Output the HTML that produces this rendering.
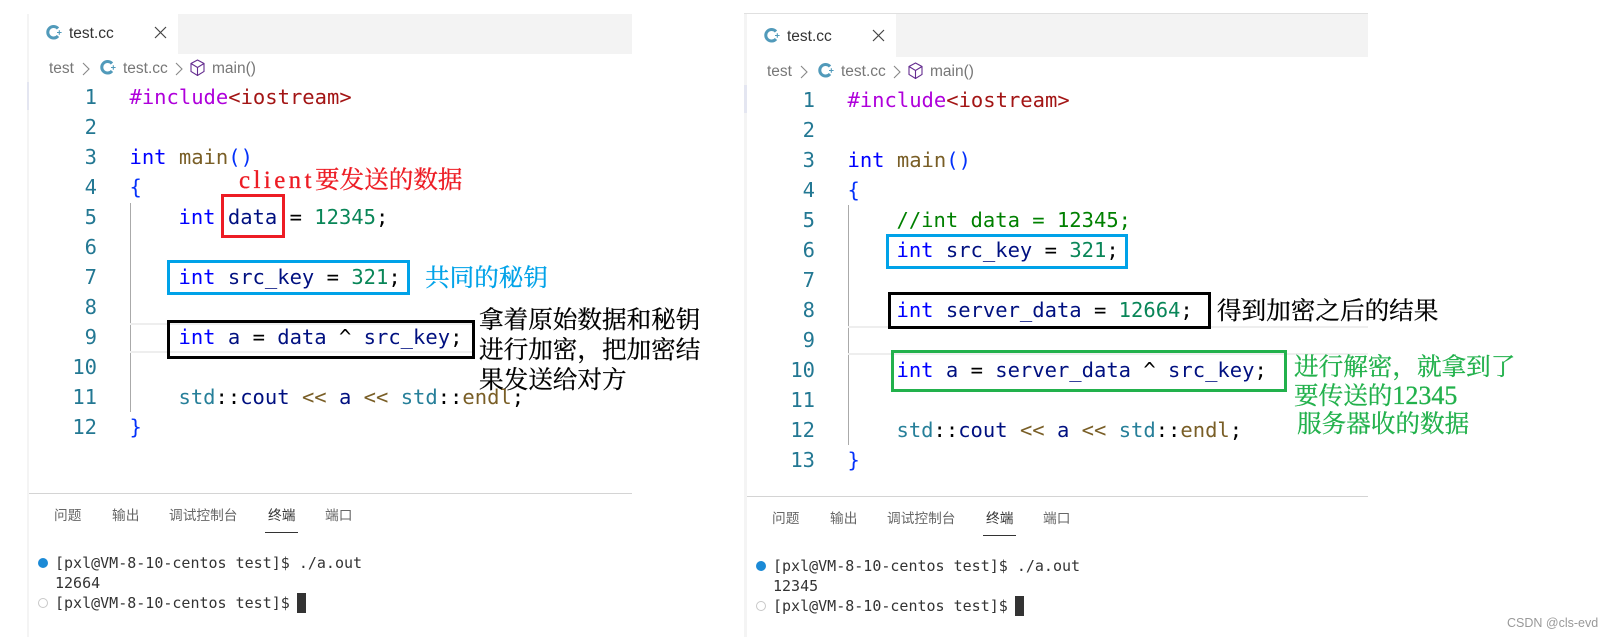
<!DOCTYPE html>
<html>
<head>
<meta charset="utf-8">
<style>
html,body{margin:0;padding:0;background:#fff;}
body{width:1610px;height:637px;position:relative;overflow:hidden;}
div,span{box-sizing:border-box;}
.a{position:absolute;}
.grp{position:absolute;left:0;top:0;width:1610px;height:637px;}
.c{position:absolute;white-space:pre;height:30px;line-height:30px;font-family:"DejaVu Sans Mono","Liberation Mono",monospace;font-size:20.5px;color:#001080;margin-left:.5px;}
.n{position:absolute;left:60px;width:37px;text-align:right;height:30px;line-height:30px;font-family:"DejaVu Sans Mono","Liberation Mono",monospace;font-size:20.5px;color:#237893;}
.k{color:#0000ff}.f{color:#795e26}.p{color:#0431fa}.v{color:#001080}.d{color:#098658}.o{color:#000}.t{color:#267f99}.i{color:#af00db}.s{color:#a31515}.m{color:#008000}
.ui{position:absolute;white-space:pre;font-family:"Liberation Sans","Noto Sans CJK SC",sans-serif;}
.tab{font-size:15.5px;color:#333;height:20px;line-height:20px;}
.bc{font-size:15.5px;color:#777;height:20px;line-height:20px;}
.pt{font-size:13.7px;color:#666;height:20px;line-height:20px;}
.term{position:absolute;white-space:pre;left:55px;height:20px;line-height:20px;font-family:"DejaVu Sans Mono","Liberation Mono",monospace;font-size:15px;color:#333;}
.note{position:absolute;white-space:pre;height:30px;line-height:30px;font-family:"Noto Serif CJK SC","Liberation Serif",serif;font-size:24.6px;-webkit-text-stroke:.3px currentColor;}
.box{position:absolute;border-style:solid;border-width:3px;}
svg{position:absolute;overflow:visible;}
</style>
</head>
<body>

<!-- LEFT PANEL -->
<div class="a" style="left:27px;top:14px;width:2px;height:623px;background:#f4f4f4"></div>
<div class="a" style="left:27px;top:82px;width:2px;height:28px;background:#e4e6f1"></div>
<div class="a" style="left:178px;top:14px;width:454px;height:40px;background:#f3f3f3"></div>
<svg style="left:0;top:0" width="1" height="1">
  <path d="M58 28.500 A5.800 5.800 0 1 0 58 36" fill="none" stroke="#519aba" stroke-width="3"/>
  <path d="M57 32.500h4.600M59.300 30.200v4.600" stroke="#519aba" stroke-width="1.100" fill="none"/>
  <path d="M155 27l11 11M166 27l-11 11" stroke="#444" stroke-width="1.200" fill="none"/>
  <path d="M83 63l6 6-6 6" stroke="#888" stroke-width="1.100" fill="none"/>
  <path d="M112 63.500 A5.800 5.800 0 1 0 112 71" fill="none" stroke="#519aba" stroke-width="3"/>
  <path d="M111 67.500h4.600M113.300 65.200v4.600" stroke="#519aba" stroke-width="1.100" fill="none"/>
  <path d="M176 63l6 6-6 6" stroke="#888" stroke-width="1.100" fill="none"/>
  <path d="M197.500 60l6.500 3.500v8l-6.500 4-6.500-4v-8zM191 63.500l6.500 4 6.500-4M197.500 67.500v8.500" stroke="#652d90" stroke-width="1.100" fill="none"/>
</svg>
<div class="ui tab" style="left:69px;top:24px">test.cc</div>
<div class="ui bc" style="left:49px;top:59px">test</div>
<div class="ui bc" style="left:123px;top:59px">test.cc</div>
<div class="ui bc" style="left:212px;top:59px">main()</div>

<div class="a" style="left:130px;top:203px;width:1px;height:209px;background:#aaaaaa"></div>
<div class="a" style="left:130px;top:323px;width:345px;height:2px;background:#eeeeee"></div>
<div class="a" style="left:130px;top:351px;width:345px;height:2px;background:#eeeeee"></div>

<div class="n" style="top:82px">1</div>
<div class="n" style="top:112px">2</div>
<div class="n" style="top:142px">3</div>
<div class="n" style="top:172px">4</div>
<div class="n" style="top:202px">5</div>
<div class="n" style="top:232px">6</div>
<div class="n" style="top:262px">7</div>
<div class="n" style="top:292px">8</div>
<div class="n" style="top:322px">9</div>
<div class="n" style="top:352px">10</div>
<div class="n" style="top:382px">11</div>
<div class="n" style="top:412px">12</div>

<div class="c" style="left:129px;top:82px"><span class="i">#include</span><span class="s">&lt;iostream&gt;</span></div>
<div class="c" style="left:129px;top:142px"><span class="k">int</span> <span class="f">main</span><span class="p">()</span></div>
<div class="c" style="left:129px;top:172px"><span class="p">{</span></div>
<div class="c" style="left:178px;top:202px"><span class="k">int</span> <span class="v">data</span> <span class="o">=</span> <span class="d">12345</span><span class="o">;</span></div>
<div class="c" style="left:178px;top:262px"><span class="k">int</span> <span class="v">src_key</span> <span class="o">=</span> <span class="d">321</span><span class="o">;</span></div>
<div class="c" style="left:178px;top:322px"><span class="k">int</span> <span class="v">a</span> <span class="o">=</span> <span class="v">data</span> <span class="o">^</span> <span class="v">src_key</span><span class="o">;</span></div>
<div class="c" style="left:178px;top:382px"><span class="t">std</span><span class="o">::</span><span class="v">cout</span> <span class="f">&lt;&lt;</span> <span class="v">a</span> <span class="f">&lt;&lt;</span> <span class="t">std</span><span class="o">::</span><span class="f">endl</span><span class="o">;</span></div>
<div class="c" style="left:129px;top:412px"><span class="p">}</span></div>

<div class="box" style="left:221px;top:194px;width:64px;height:44px;border-color:#ed1c24"></div>
<div class="box" style="left:167px;top:260px;width:243px;height:35px;border-color:#00a2e8"></div>
<div class="box" style="left:167px;top:320px;width:308px;height:39px;border-color:#000"></div>

<div class="note" style="left:239px;top:164px;color:#ed1c24"><span style="font-family:'Liberation Serif',serif;font-size:25px;letter-spacing:3.400px">client</span>要发送的数据</div>
<div class="note" style="left:425px;top:262px;color:#00a2e8">共同的秘钥</div>
<div class="note" style="left:479px;top:304px;color:#000">拿着原始数据和秘钥</div>
<div class="note" style="left:479px;top:334px;color:#000">进行加密，把加密结</div>
<div class="note" style="left:479px;top:364px;color:#000">果发送给对方</div>

<div class="a" style="left:29px;top:493px;width:603px;height:1px;background:#d4d4d4"></div>
<div class="ui pt" style="left:54px;top:506px">问题</div>
<div class="ui pt" style="left:112px;top:506px">输出</div>
<div class="ui pt" style="left:169px;top:506px">调试控制台</div>
<div class="ui pt" style="left:268px;top:506px;color:#333">终端</div>
<div class="ui pt" style="left:325px;top:506px">端口</div>
<div class="a" style="left:265px;top:532px;width:33px;height:1px;background:#333"></div>
<div class="a" style="left:38px;top:558px;width:10px;height:10px;border-radius:50%;background:#1b8ad6"></div>
<div class="a" style="left:38px;top:598px;width:10px;height:10px;border-radius:50%;border:1.500px solid #c8c8c8"></div>
<div class="term" style="top:553px">[pxl@VM-8-10-centos test]$ ./a.out</div>
<div class="term" style="top:573px">12664</div>
<div class="term" style="top:593px">[pxl@VM-8-10-centos test]$</div>
<div class="a" style="left:297px;top:593px;width:9px;height:20px;background:#333"></div>

<!-- RIGHT PANEL -->
<div class="a" style="left:744px;top:13px;width:624px;height:1px;background:#e0e0e0"></div>
<div class="a" style="left:744px;top:14px;width:3px;height:623px;background:#f4f4f4"></div>
<div class="a" style="left:744px;top:85px;width:3px;height:28px;background:#e4e6f1"></div>
<div class="a" style="left:896px;top:14px;width:472px;height:43px;background:#f3f3f3"></div>

<svg style="left:718px;top:3px" width="1" height="1">
  <path d="M58 28.500 A5.800 5.800 0 1 0 58 36" fill="none" stroke="#519aba" stroke-width="3"/>
  <path d="M57 32.500h4.600M59.300 30.200v4.600" stroke="#519aba" stroke-width="1.100" fill="none"/>
  <path d="M155 27l11 11M166 27l-11 11" stroke="#444" stroke-width="1.200" fill="none"/>
  <path d="M83 63l6 6-6 6" stroke="#888" stroke-width="1.100" fill="none"/>
  <path d="M112 63.500 A5.800 5.800 0 1 0 112 71" fill="none" stroke="#519aba" stroke-width="3"/>
  <path d="M111 67.500h4.600M113.300 65.200v4.600" stroke="#519aba" stroke-width="1.100" fill="none"/>
  <path d="M176 63l6 6-6 6" stroke="#888" stroke-width="1.100" fill="none"/>
  <path d="M197.500 60l6.500 3.500v8l-6.500 4-6.500-4v-8zM191 63.500l6.500 4 6.500-4M197.500 67.500v8.500" stroke="#652d90" stroke-width="1.100" fill="none"/>
</svg>

<div class="grp" style="left:718px;top:3px">
<div class="ui tab" style="left:69px;top:24px">test.cc</div>
<div class="ui bc" style="left:49px;top:59px">test</div>
<div class="ui bc" style="left:123px;top:59px">test.cc</div>
<div class="ui bc" style="left:212px;top:59px">main()</div>

<div class="a" style="left:130px;top:202px;width:1px;height:240px;background:#aaaaaa"></div>
<div class="a" style="left:130px;top:323px;width:520px;height:2px;background:#eeeeee"></div>
<div class="a" style="left:130px;top:350px;width:520px;height:2px;background:#eeeeee"></div>

<div class="n" style="top:82px">1</div>
<div class="n" style="top:112px">2</div>
<div class="n" style="top:142px">3</div>
<div class="n" style="top:172px">4</div>
<div class="n" style="top:202px">5</div>
<div class="n" style="top:232px">6</div>
<div class="n" style="top:262px">7</div>
<div class="n" style="top:292px">8</div>
<div class="n" style="top:322px">9</div>
<div class="n" style="top:352px">10</div>
<div class="n" style="top:382px">11</div>
<div class="n" style="top:412px">12</div>
<div class="n" style="top:442px">13</div>

<div class="c" style="left:129px;top:82px"><span class="i">#include</span><span class="s">&lt;iostream&gt;</span></div>
<div class="c" style="left:129px;top:142px"><span class="k">int</span> <span class="f">main</span><span class="p">()</span></div>
<div class="c" style="left:129px;top:172px"><span class="p">{</span></div>
<div class="c" style="left:178px;top:202px"><span class="m">//int data = 12345;</span></div>
<div class="c" style="left:178px;top:232px"><span class="k">int</span> <span class="v">src_key</span> <span class="o">=</span> <span class="d">321</span><span class="o">;</span></div>
<div class="c" style="left:178px;top:292px"><span class="k">int</span> <span class="v">server_data</span> <span class="o">=</span> <span class="d">12664</span><span class="o">;</span></div>
<div class="c" style="left:178px;top:352px"><span class="k">int</span> <span class="v">a</span> <span class="o">=</span> <span class="v">server_data</span> <span class="o">^</span> <span class="v">src_key</span><span class="o">;</span></div>
<div class="c" style="left:178px;top:412px"><span class="t">std</span><span class="o">::</span><span class="v">cout</span> <span class="f">&lt;&lt;</span> <span class="v">a</span> <span class="f">&lt;&lt;</span> <span class="t">std</span><span class="o">::</span><span class="f">endl</span><span class="o">;</span></div>
<div class="c" style="left:129px;top:442px"><span class="p">}</span></div>

<div class="box" style="left:168px;top:231px;width:242px;height:35px;border-color:#00a2e8"></div>
<div class="box" style="left:170px;top:289px;width:323px;height:37px;border-color:#000"></div>
<div class="box" style="left:173px;top:347px;width:396px;height:42px;border-color:#22b14c"></div>

<div class="note" style="left:499px;top:292px;color:#000">得到加密之后的结果</div>
<div class="note" style="left:576px;top:348px;color:#22b14c">进行解密，就拿到了</div>
<div class="note" style="left:576px;top:377px;color:#22b14c">要传送的<span style="font-family:'Liberation Serif',serif;font-size:26px">12345</span></div>
<div class="note" style="left:579px;top:405px;color:#22b14c">服务器收的数据</div>

<div class="a" style="left:29px;top:493px;width:621px;height:1px;background:#d4d4d4"></div>
<div class="ui pt" style="left:54px;top:506px">问题</div>
<div class="ui pt" style="left:112px;top:506px">输出</div>
<div class="ui pt" style="left:169px;top:506px">调试控制台</div>
<div class="ui pt" style="left:268px;top:506px;color:#333">终端</div>
<div class="ui pt" style="left:325px;top:506px">端口</div>
<div class="a" style="left:265px;top:532px;width:33px;height:1px;background:#333"></div>
<div class="a" style="left:38px;top:558px;width:10px;height:10px;border-radius:50%;background:#1b8ad6"></div>
<div class="a" style="left:38px;top:598px;width:10px;height:10px;border-radius:50%;border:1.500px solid #c8c8c8"></div>
<div class="term" style="top:553px">[pxl@VM-8-10-centos test]$ ./a.out</div>
<div class="term" style="top:573px">12345</div>
<div class="term" style="top:593px">[pxl@VM-8-10-centos test]$</div>
<div class="a" style="left:297px;top:593px;width:9px;height:20px;background:#333"></div>
</div>

<div class="ui" style="left:1507px;top:615px;height:16px;line-height:16px;font-size:12.500px;color:#999">CSDN @cls-evd</div>

</body>
</html>
